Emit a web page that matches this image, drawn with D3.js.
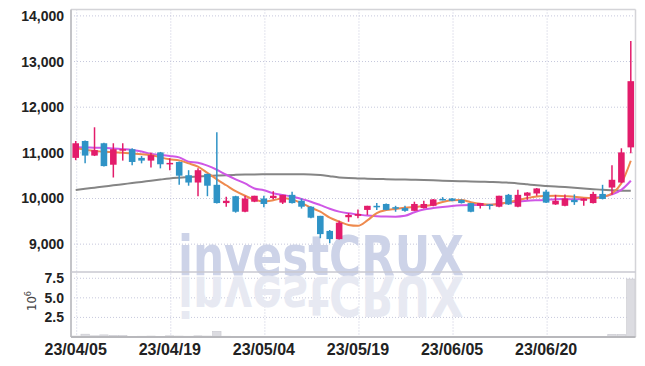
<!DOCTYPE html>
<html>
<head>
<meta charset="utf-8">
<script src="https://cdn.jsdelivr.net/npm/d3@7"></script>
<style>
  body { margin: 0; background: #fff; }
  svg text { font-family: "Liberation Sans Narrow", "DejaVu Sans Condensed", sans-serif; }
</style>
</head>
<body>
<div id="chart"></div>
<script>
// trading days 2023-04-05 .. 2023-07-03
var dates = ["23/04/05","23/04/06","23/04/07","23/04/10","23/04/11","23/04/12","23/04/13","23/04/14","23/04/17","23/04/18",
  "23/04/19","23/04/20","23/04/21","23/04/24","23/04/25","23/04/26","23/04/27","23/04/28","23/05/02","23/05/03",
  "23/05/04","23/05/08","23/05/09","23/05/10","23/05/11","23/05/12","23/05/15","23/05/16","23/05/17","23/05/18",
  "23/05/19","23/05/22","23/05/23","23/05/24","23/05/25","23/05/26","23/05/30","23/05/31","23/06/01","23/06/02",
  "23/06/05","23/06/07","23/06/08","23/06/09","23/06/12","23/06/13","23/06/14","23/06/15","23/06/16","23/06/19",
  "23/06/20","23/06/21","23/06/22","23/06/23","23/06/26","23/06/27","23/06/28","23/06/29","23/06/30","23/07/03"];

var open  = [10890,11260,10940,11210,10740,11050,11080,10890,10830,11010,10750,10800,10510,10350,10540,10300,9900,10050,9710,9930,
  10000,10010,9910,10080,9950,9820,9620,9290,9110,9590,9620,9750,9840,9880,9810,9790,9730,9790,9840,9990,
  10000,9970,9900,9840,9870,9820,10080,9820,10060,10110,10150,9870,9840,9970,9950,9900,10100,10240,10350,11120];
var high  = [11260,11270,11560,11220,11210,11210,11100,10930,11010,11020,10880,10810,10620,10660,10540,11450,10040,10060,10060,10060,
  10060,10160,10080,10150,10000,9830,9620,9310,9510,9680,9760,9840,9900,9890,9840,9840,9930,9950,9990,10030,
  10010,9980,9900,9900,9880,10060,10100,10190,10140,10230,10190,10080,10090,10090,10010,10150,10300,10730,11100,13450];
var low   = [10840,10770,10930,10700,10460,10830,10730,10770,10680,10660,10620,10300,10280,10050,10050,9890,9820,9690,9700,9920,
  9810,9980,9880,9890,9780,9570,9130,9020,9100,9490,9570,9640,9750,9740,9710,9710,9730,9780,9830,9960,
  9940,9890,9700,9780,9760,9810,9860,9810,9970,10060,9900,9860,9830,9860,9840,9890,9980,10080,10340,10990];
var close = [11210,10940,11060,10710,11080,11080,10800,10830,10950,10750,10780,10500,10350,10620,10280,9900,9950,9710,10000,10060,
  9880,10060,10080,9900,9820,9580,9220,9110,9470,9640,9660,9840,9810,9750,9790,9730,9880,9880,9980,9980,
  9950,9900,9710,9900,9840,10060,9870,10080,10130,10220,9910,9950,10000,9920,10000,10100,9990,10410,11010,12570];
// volume, millions of shares
var volume = [0.12,0.36,0.15,0.27,0.2,0.18,0.08,0.1,0.12,0.08,0.15,0.12,0.1,0.15,0.12,0.72,0.1,0.08,0.06,0.05,
  0.05,0.04,0.05,0.04,0.05,0.06,0.08,0.07,0.06,0.05,0.04,0.05,0.04,0.04,0.03,0.04,0.05,0.04,0.05,0.04,
  0.04,0.05,0.06,0.04,0.04,0.06,0.05,0.06,0.05,0.06,0.05,0.04,0.05,0.04,0.04,0.05,0.08,0.34,0.33,7.4];

// moving averages
var maShort = [11100,11070,11045,11022,11015,11002,10985,10968,10951,10901,10860,10835,10770,10696,10560,10420,10290,10160,10060,9975,
  9935,9960,10004,9975,9900,9800,9710,9580,9495,9420,9402,9520,9680,9745,9770,9795,9815,9835,9862,9925,
  9960,9965,9920,9885,9865,9880,9920,9962,10010,10045,10055,10060,10050,10039,10015,10005,10035,10110,10332,10827];
var maMid = [11120,11118,11114,11112,11095,11080,11062,11030,10974,10955,10932,10900,10805,10785,10720,10630,10520,10420,10330,10220,
  10180,10114,10075,10045,9990,9930,9855,9775,9712,9675,9650,9625,9612,9605,9602,9620,9700,9760,9790,9815,
  9836,9850,9858,9858,9862,9885,9910,9930,9952,9962,9968,9985,9988,9982,9995,10015,10040,10091,10190,10390];
var maLong = [10186,10212,10237,10262,10288,10313,10339,10364,10390,10415,10438,10455,10470,10482,10493,10503,10512,10518,10523,10527,
  10529,10530,10530,10530,10529,10527,10515,10488,10462,10447,10440,10434,10428,10423,10418,10414,10409,10404,10398,10390,
  10383,10378,10373,10368,10363,10358,10345,10330,10310,10290,10275,10262,10250,10235,10220,10205,10190,10180,10172,10168];

var dateTicks = ["23/04/05","23/04/19","23/05/04","23/05/19","23/06/05","23/06/20"];
var priceTicks = [9000,10000,11000,12000,13000,14000];
var volTicks = [2.5,5.0,7.5];

var W = 645, H = 366;
var plotLeft = 71, plotRight = 635.5, plotTop = 9.5, priceBottom = 272, volBottom = 337;
var upColor = "#e31c6b", downColor = "#2f93c6";

var svg = d3.select("#chart").append("svg")
  .attr("width", W).attr("height", H);

var x = d3.scaleBand().domain(dates).range([plotLeft, plotRight]).padding(0);
var cx = d => x(d) + x.bandwidth() / 2;
var y = d3.scaleLinear().domain([8390, 14140]).range([priceBottom, plotTop]);
var yv = d3.scaleLinear().domain([0, 8.3]).range([volBottom, priceBottom]);

// grid
var grid = svg.append("g").attr("stroke", "#c6c8dc").attr("stroke-dasharray", "1,2").attr("stroke-width", 1);
grid.append("g").selectAll("line").data(priceTicks).join("line")
  .attr("x1", plotLeft).attr("x2", plotRight).attr("y1", d => y(d)).attr("y2", d => y(d));
grid.append("g").selectAll("line").data(volTicks).join("line")
  .attr("x1", plotLeft).attr("x2", plotRight).attr("y1", d => yv(d)).attr("y2", d => yv(d));
grid.append("g").selectAll("line").data(dateTicks).join("line")
  .attr("x1", d => cx(d) + 1).attr("x2", d => cx(d) + 1).attr("y1", plotTop).attr("y2", volBottom);

// watermark
var wm = svg.append("g")
  .style("font-family", "'Liberation Sans', Arial, sans-serif").style("font-weight", "bold").style("font-size", "56px");
wm.append("text").attr("x", 178).attr("y", 275)
  .attr("textLength", 286).attr("lengthAdjust", "spacingAndGlyphs")
  .attr("fill", "#cdd3e8").text("investCRUX");
wm.append("text").attr("x", 178).attr("y", -277)
  .attr("transform", "scale(1,-1)")
  .attr("textLength", 286).attr("lengthAdjust", "spacingAndGlyphs")
  .attr("fill", "#e7e9f2").text("investCRUX");

// volume bars
svg.append("g").selectAll("rect").data(dates).join("rect")
  .attr("x", d => x(d) + 0.5)
  .attr("width", x.bandwidth() - 1)
  .attr("y", (d, i) => yv(volume[i]))
  .attr("height", (d, i) => volBottom - yv(volume[i]))
  .attr("fill", "#dcdce1").attr("stroke", "#c9c9cf").attr("stroke-width", 0.6);

// moving averages
function maLine(vals, color, w) {
  svg.append("path").datum(vals)
    .attr("fill", "none").attr("stroke", color).attr("stroke-width", w)
    .attr("d", d3.line().x((d, i) => cx(dates[i])).y(d => y(d)).curve(d3.curveMonotoneX));
}
maLine(maLong, "#858585", 2);
maLine(maMid, "#cf57e6", 2);
maLine(maShort, "#ee8a4e", 2);

// candles
var bw = x.bandwidth() * 0.7;
var candles = svg.append("g").selectAll("g").data(dates).join("g");
candles.append("line")
  .attr("x1", d => cx(d)).attr("x2", d => cx(d))
  .attr("y1", (d, i) => y(high[i])).attr("y2", (d, i) => y(low[i]))
  .attr("stroke", (d, i) => close[i] >= open[i] ? upColor : downColor)
  .attr("stroke-width", 1.5);
candles.append("rect")
  .attr("x", d => cx(d) - bw / 2).attr("width", bw)
  .attr("y", (d, i) => y(Math.max(open[i], close[i])))
  .attr("height", (d, i) => Math.max(1.5, Math.abs(y(open[i]) - y(close[i]))))
  .attr("fill", (d, i) => close[i] >= open[i] ? upColor : downColor);

// frame
var frame = svg.append("g").attr("fill", "none");
frame.append("line").attr("x1", plotLeft).attr("x2", plotRight).attr("y1", plotTop).attr("y2", plotTop).attr("stroke", "#d4d4d8").attr("stroke-width", 1.5);
frame.append("line").attr("x1", plotRight).attr("x2", plotRight).attr("y1", plotTop).attr("y2", volBottom).attr("stroke", "#d4d4d8").attr("stroke-width", 1.5);
frame.append("line").attr("x1", plotLeft).attr("x2", plotLeft).attr("y1", plotTop).attr("y2", volBottom).attr("stroke", "#c4c4c8").attr("stroke-width", 2);
frame.append("line").attr("x1", plotLeft).attr("x2", plotRight).attr("y1", priceBottom).attr("y2", priceBottom).attr("stroke", "#c8c8d0").attr("stroke-width", 1.5);
frame.append("line").attr("x1", plotLeft).attr("x2", plotRight).attr("y1", volBottom).attr("y2", volBottom).attr("stroke", "#b8b8bc").attr("stroke-width", 2);

// axes
var yAxis = svg.append("g").attr("transform", "translate(" + plotLeft + ",0)")
  .call(d3.axisLeft(y).tickValues(priceTicks).tickFormat(d3.format(",")).tickSize(0).tickPadding(7));
var vAxis = svg.append("g").attr("transform", "translate(" + plotLeft + ",0)")
  .call(d3.axisLeft(yv).tickValues(volTicks).tickFormat(d3.format(".1f")).tickSize(0).tickPadding(7));
var xAxis = svg.append("g").attr("transform", "translate(0," + volBottom + ")")
  .call(d3.axisBottom(x).tickValues(dateTicks).tickSize(0).tickPadding(6));

[yAxis, vAxis, xAxis].forEach(function(a) {
  a.select(".domain").remove();
  a.selectAll("text")
    .attr("fill", "#222")
    .style("font-family", "'Liberation Sans Narrow', sans-serif")
    .style("font-weight", "bold")
    .style("font-size", "14px");
});
xAxis.selectAll("text").style("font-size", "16px").attr("dy", "0.75em");

// 10^6 label
var unit = svg.append("text")
  .attr("transform", "translate(36,301) rotate(-90)")
  .attr("text-anchor", "middle")
  .attr("fill", "#444")
  .style("font-family", "'DejaVu Sans Condensed', 'DejaVu Sans', sans-serif")
  .style("font-size", "13px");
unit.append("tspan").text("10");
unit.append("tspan").attr("dy", "-5").style("font-size", "9px").text("6");
</script>
</body>
</html>
